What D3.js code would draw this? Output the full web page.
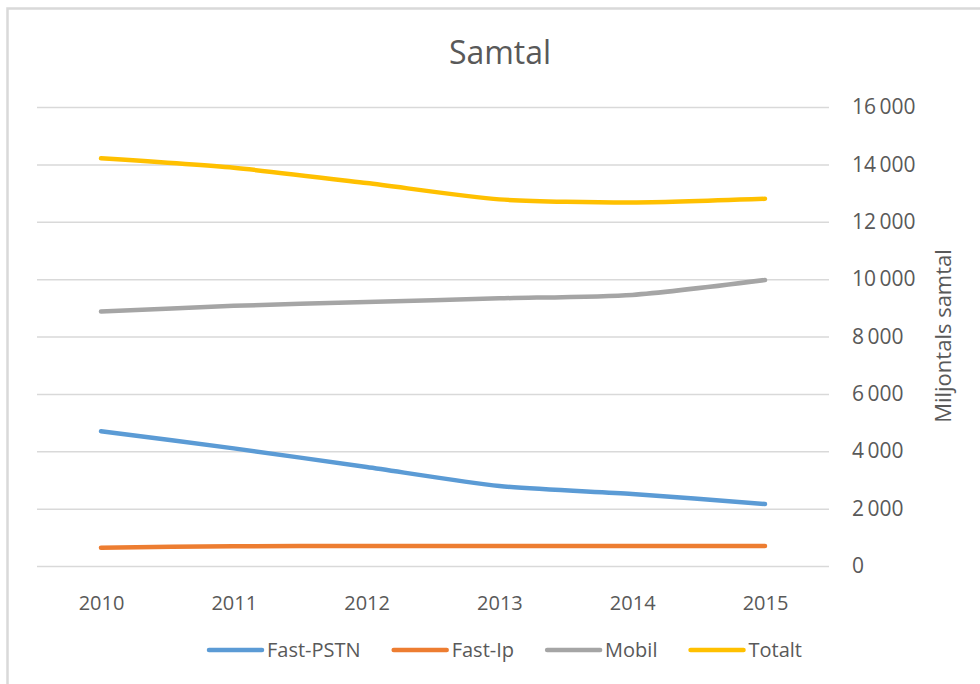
<!DOCTYPE html>
<html>
<head>
<meta charset="utf-8">
<script src="https://cdn.jsdelivr.net/npm/d3@7"></script>
<style>
  html, body { margin: 0; padding: 0; background: #fff; }
  svg { display: block; }
  text { font-family: "Open Sans", sans-serif; fill: #595959; }
</style>
</head>
<body>
<svg id="chart" width="980" height="684"></svg>
<script>
const years = ["2010", "2011", "2012", "2013", "2014", "2015"];
const fastPSTN = [4700, 4100, 3450, 2790, 2510, 2160];
const fastIp   = [640, 690, 700, 700, 700, 700];
const mobil    = [8870, 9070, 9200, 9330, 9450, 9970];
const totalt   = [14210, 13880, 13350, 12780, 12670, 12800];
const seriesNames = ["Fast-PSTN", "Fast-Ip", "Mobil", "Totalt"];
const seriesColors = ["#5B9BD5", "#ED7D31", "#A5A5A5", "#FFC000"];
const yTicks = [0, 2000, 4000, 6000, 8000, 10000, 12000, 14000, 16000];
const chartTitle = "Samtal";
const yAxisTitle = "Miljontals samtal";

const seriesValues = [fastPSTN, fastIp, mobil, totalt];

const svg = d3.select("#chart");

// outer border
svg.append("rect")
  .attr("x", 7.5).attr("y", 8.5)
  .attr("width", 1000).attr("height", 700)
  .attr("fill", "none").attr("stroke", "#d9d9d9").attr("stroke-width", 2.5);

const plotLeft = 37, plotRight = 829, plotTop = 107, plotBottom = 566;

const x = d3.scalePoint().domain(years).range([101, 765]);
const y = d3.scaleLinear().domain([0, 16000]).range([plotBottom, plotTop]);

const fmt = v => d3.format(",")(v).replace(/,/g, "\u2009");

// gridlines + right axis labels
const yAxis = d3.axisRight(y)
  .tickValues(yTicks)
  .tickSize(-(plotRight - plotLeft))
  .tickPadding(23)
  .tickFormat(fmt);

const gy = svg.append("g")
  .attr("transform", `translate(${plotRight},0)`)
  .call(yAxis);
gy.select(".domain").remove();
gy.selectAll(".tick line").attr("stroke", "#d9d9d9").attr("stroke-width", 1.5);
gy.selectAll(".tick text")
  .attr("font-size", 21)
  .attr("fill", "#595959")
  .attr("font-family", "'Open Sans', sans-serif");

// x axis labels
const xAxis = d3.axisBottom(x).tickSize(0).tickPadding(30);
const gx = svg.append("g")
  .attr("transform", `translate(0,${plotBottom})`)
  .call(xAxis);
gx.select(".domain").remove();
gx.selectAll(".tick text")
  .attr("font-size", 20)
  .attr("fill", "#595959")
  .attr("font-family", "'Open Sans', sans-serif");

// lines
const line = d3.line()
  .x((d, i) => x(years[i]))
  .y(d => y(d))
  .curve(d3.curveCardinal.tension(0.3));

svg.append("g").selectAll("path")
  .data(seriesValues)
  .join("path")
  .attr("d", d => line(d))
  .attr("fill", "none")
  .attr("stroke", (d, i) => seriesColors[i])
  .attr("stroke-width", 4.5)
  .attr("stroke-linecap", "round")
  .attr("stroke-linejoin", "round");

// title
svg.append("text")
  .attr("x", 500).attr("y", 64)
  .attr("text-anchor", "middle")
  .attr("font-size", 32)
  .text(chartTitle);

// y axis title
svg.append("text")
  .attr("transform", "translate(951,336) rotate(-90)")
  .attr("text-anchor", "middle")
  .attr("font-size", 22)
  .text(yAxisTitle);

// legend
const legend = svg.append("g");
const items = legend.selectAll("g")
  .data(seriesNames)
  .join("g");
items.append("line")
  .attr("x1", 2).attr("x2", 55)
  .attr("y1", 0).attr("y2", 0)
  .attr("stroke", (d, i) => seriesColors[i])
  .attr("stroke-width", 4.5)
  .attr("stroke-linecap", "round");
items.append("text")
  .attr("x", 60).attr("y", 0)
  .attr("dy", "0.35em")
  .attr("font-size", 20)
  .text(d => d);
const widths = [];
items.each(function() { widths.push(this.getBBox().width); });
const legendStart = 207, legendEnd = 800;
const gap = (legendEnd - legendStart - d3.sum(widths)) / (widths.length - 1);
let cx = legendStart;
items.attr("transform", (d, i) => {
  const t = `translate(${cx},650)`;
  cx += widths[i] + gap;
  return t;
});
</script>
</body>
</html>
